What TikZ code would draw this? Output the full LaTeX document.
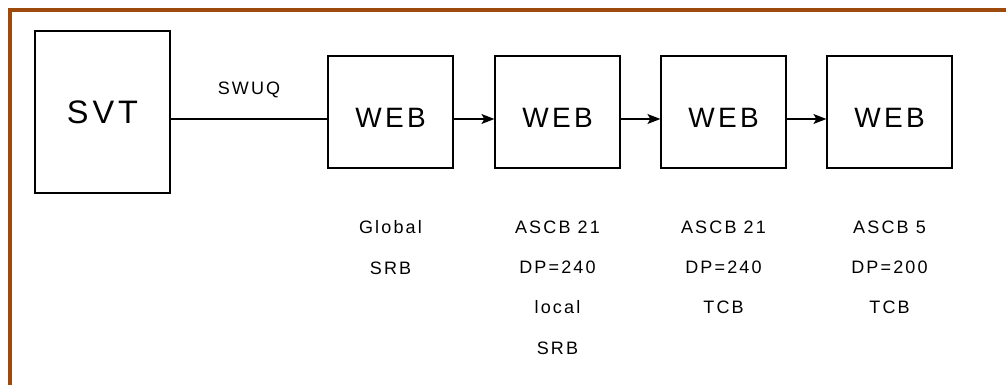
\documentclass[tikz,border=0pt]{standalone}
\usepackage{fontspec}
\usetikzlibrary{positioning, arrows.meta}
\newfontfamily\diagfont[LetterSpace=12]{Liberation Sans}
\definecolor{framebrown}{RGB}{158,74,12}

\begin{document}
\begin{tikzpicture}[x=1pt, y=1pt,
    box/.style = {draw, line width=1.2pt, minimum width=125pt, minimum height=112pt, inner sep=0pt,
        text height=32pt, text depth=0pt, font=\fontsize{28}{30}\selectfont\diagfont},
    note/.style = {align=center, inner sep=0pt, font=\fontsize{18}{40.3}\selectfont\diagfont},
    link/.style = {line width=1.2pt, -{Stealth[length=13pt, width=10pt, inset=3pt]}}]
    \useasboundingbox (0,0) rectangle (1006,385);
    \draw [framebrown, line width=4pt] (10,0) -- (10,375) -- (1006,375);
    \node [box, minimum width=135pt, minimum height=162pt, text height=23.3pt,
        font=\fontsize{32.5}{34}\selectfont\diagfont] (svt) at (102.5,273) {SVT};
    \node [box] (web1) at (390.5,273) {WEB};
    \node [box] (web2) at (557.5,273) {WEB};
    \node [box] (web3) at (723.5,273) {WEB};
    \node [box] (web4) at (889.5,273) {WEB};
    \draw [line width=1.2pt] ([yshift=-7pt]svt.east) -- node [note, above=20pt] {SWUQ} ([yshift=-7pt]web1.west);
    \draw [link] ([yshift=-7pt]web1.east) -- ([yshift=-7pt]web2.west);
    \draw [link] ([yshift=-7pt]web2.east) -- ([yshift=-7pt]web3.west);
    \draw [link] ([yshift=-7pt]web3.east) -- ([yshift=-7pt]web4.west);
    \node [note, below=52pt of web1] (info1) {Global\\SRB};
    \node [note, below=52pt of web2] (info2) {ASCB 21\\DP=240\\local\\SRB};
    \node [note, below=52pt of web3] (info3) {ASCB 21\\DP=240\\TCB};
    \node [note, below=52pt of web4] (info4) {ASCB 5\\DP=200\\TCB};
\end{tikzpicture}
\end{document}
